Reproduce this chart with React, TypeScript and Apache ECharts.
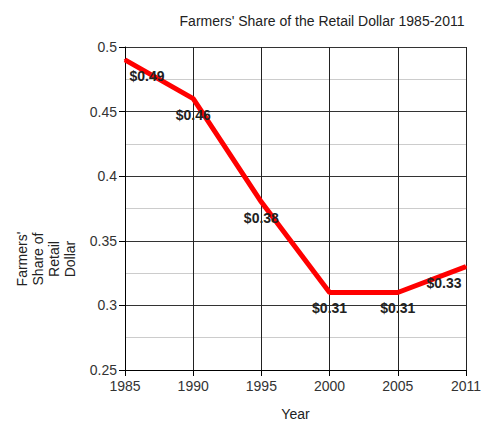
import React, { useEffect, useRef } from "react";
import * as echarts from "echarts";

const years = ["1985", "1990", "1995", "2000", "2005", "2011"];
const shares = [0.49, 0.46, 0.38, 0.31, 0.31, 0.33];
const labelShiftX = [22, 0, 0, 0, 0, -22];
const yTicks = { min: 0.25, max: 0.5, interval: 0.05 };
const titleText = "Farmers' Share of the Retail Dollar 1985-2011";
const yName = ["Farmers'", "Share of", "Retail", "Dollar"];
const xName = "Year";

const FONT = "'Liberation Sans', Arial, sans-serif";

export default function App() {
  const ref = useRef<HTMLDivElement>(null);
  useEffect(() => {
    const chart = echarts.init(ref.current!, null, { renderer: "svg" });
    chart.setOption({
      animation: false,
      textStyle: { fontFamily: FONT },
      title: {
        text: titleText,
        left: 317,
        top: 9,
        textAlign: "center",
        textStyle: { fontSize: 14, fontWeight: "normal", color: "#222", fontFamily: FONT },
      },
      graphic: [
        {
          type: "text",
          x: 46,
          y: 259,
          rotation: Math.PI / 2,
          style: {
            text: yName.join("\n"),
            fontSize: 14,
            lineHeight: 16,
            fontFamily: FONT,
            fill: "#222",
            align: "center",
            verticalAlign: "middle",
          },
        },
      ],
      grid: { left: 125, top: 47, right: 16, bottom: 48, containLabel: false, show: false },
      xAxis: {
        type: "category",
        data: years,
        boundaryGap: false,
        name: xName,
        nameLocation: "middle",
        nameGap: 37,
        nameTextStyle: { fontSize: 14, color: "#222", fontFamily: FONT },
        axisLine: { show: true, lineStyle: { color: "#000", width: 1 } },
        axisTick: { show: true, length: 6, inside: false, alignWithLabel: true, lineStyle: { color: "#000" } },
        axisLabel: { fontSize: 14, color: "#333", margin: 9, fontFamily: FONT },
        splitLine: { show: true, lineStyle: { color: "#222", width: 1 } },
      },
      yAxis: {
        type: "value",
        min: yTicks.min,
        max: yTicks.max,
        interval: yTicks.interval,
        axisLine: { show: true, lineStyle: { color: "#000", width: 1 } },
        axisTick: { show: true, length: 6, inside: false, lineStyle: { color: "#000" } },
        axisLabel: { fontSize: 14, color: "#333", margin: 8, fontFamily: FONT },
        splitLine: { show: true, lineStyle: { color: "#333", width: 1 } },
        minorTick: { show: false, splitNumber: 2 },
        minorSplitLine: { show: true, lineStyle: { color: "#ccc", width: 1 } },
      },
      series: [
        {
          type: "line",
          data: shares,
          symbol: "circle",
          symbolSize: 2,
          showSymbol: true,
          itemStyle: { color: "#ff0000" },
          lineStyle: { color: "#ff0000", width: 5 },
          label: {
            show: true,
            position: "bottom",
            distance: 8,
            formatter: (p: any) => "$" + Number(p.value).toFixed(2),
            fontSize: 14,
            fontWeight: "bold",
            color: "#222",
            fontFamily: FONT,
          },
          labelLayout: (p: any) => ({ dx: labelShiftX[p.dataIndex] || 0, hideOverlap: false }),
          z: 5,
        },
      ],
    });
    return () => chart.dispose();
  }, []);
  return <div ref={ref} style={{ width: 484, height: 426, position: "absolute", left: 0, top: 0 }} />;
}
